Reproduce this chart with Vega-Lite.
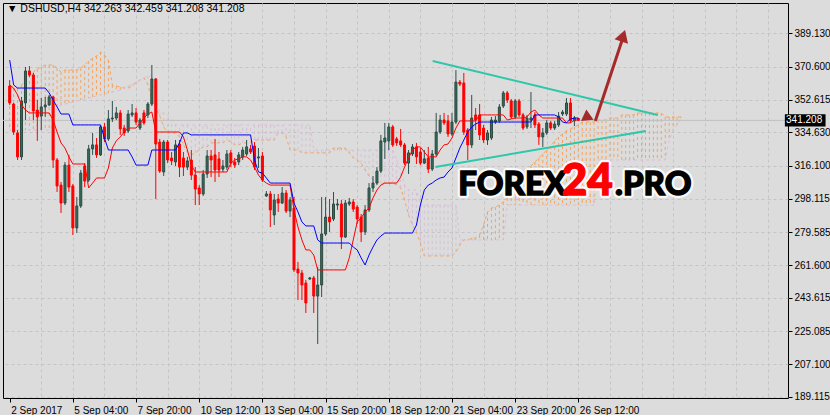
{
"$schema": "https://vega.github.io/schema/vega-lite/v6.json",
"width": 785, "height": 395,
"autosize": {"type": "pad"},
"padding": {"left": 2, "top": 3, "right": 0, "bottom": 0},
"background": "#DCDCDC",
"config": {
 "view": {"stroke": "#000000", "strokeWidth": 1, "fill": "#DCDCDC"},
 "style": {"guide-label": {"font": "Liberation Sans, sans-serif", "fontSize": 10, "fill": "#000000"}},
 "axis": {"domain": false, "tickColor": "#000000", "tickSize": 4, "labelColor": "#000000", "labelFont": "Liberation Sans, sans-serif", "labelFontSize": 10, "gridColor": "#C4C4C4", "gridDash": [3,3], "gridWidth": 1}
},
"title": {"text": "▼ DSHUSD,H4 342.263 342.459 341.208 341.208", "anchor": "start", "frame": "group", "offset": -11, "dx": 4, "font": "Liberation Sans, sans-serif", "fontSize": 10.5, "fontWeight": "normal", "color": "#000000"},
"resolve": {"axis": {"x": "independent", "y": "independent"}},
"datasets": {
"bars": [
{"i":0,"o":360.1,"h":363.4,"l":349.7,"c":350.8,"tk":360.7,"kj":374.4},
{"i":1,"o":350.2,"h":350.8,"l":333.2,"c":334.8,"tk":359.0,"kj":360.7},
{"i":2,"o":334.3,"h":335.9,"l":319.4,"c":321.1,"tk":355.2,"kj":359.0},
{"i":3,"o":321.1,"h":354.1,"l":319.4,"c":351.9,"tk":349.7,"kj":359.0},
{"i":4,"o":350.8,"h":370.6,"l":341.4,"c":368.4,"tk":346.9,"kj":359.0},
{"i":5,"o":368.4,"h":371.1,"l":365.1,"c":366.2,"tk":345.3,"kj":359.0},
{"i":6,"o":366.2,"h":367.3,"l":341.4,"c":346.4,"tk":345.3,"kj":359.0},
{"i":7,"o":346.9,"h":352.4,"l":329.9,"c":343.1,"tk":345.3,"kj":359.0},
{"i":8,"o":343.6,"h":353.5,"l":335.9,"c":348.6,"tk":345.3,"kj":359.0},
{"i":9,"o":348.6,"h":354.1,"l":343.1,"c":349.7,"tk":345.3,"kj":359.0},
{"i":10,"o":349.7,"h":355.2,"l":349.1,"c":354.1,"tk":345.3,"kj":356.3},
{"i":11,"o":354.1,"h":354.6,"l":315.0,"c":319.4,"tk":341.4,"kj":352.4},
{"i":12,"o":319.4,"h":320.5,"l":301.8,"c":305.1,"tk":334.8,"kj":348.6},
{"i":13,"o":305.6,"h":307.3,"l":290.2,"c":295.7,"tk":328.8,"kj":344.7},
{"i":14,"o":295.7,"h":318.3,"l":294.6,"c":316.6,"tk":326.0,"kj":344.7},
{"i":15,"o":316.6,"h":322.2,"l":301.8,"c":304.5,"tk":321.1,"kj":344.7},
{"i":16,"o":305.1,"h":306.2,"l":278.1,"c":282.0,"tk":317.2,"kj":338.7},
{"i":17,"o":282.0,"h":299.0,"l":279.2,"c":294.1,"tk":317.2,"kj":338.7},
{"i":18,"o":294.1,"h":313.9,"l":293.0,"c":312.2,"tk":317.2,"kj":338.7},
{"i":19,"o":316.1,"h":317.7,"l":304.5,"c":307.8,"tk":317.2,"kj":338.7},
{"i":20,"o":308.4,"h":327.7,"l":307.3,"c":325.5,"tk":304.0,"kj":338.7},
{"i":21,"o":325.5,"h":334.3,"l":322.2,"c":327.7,"tk":306.7,"kj":338.7},
{"i":22,"o":327.7,"h":331.5,"l":320.5,"c":322.2,"tk":309.5,"kj":338.7},
{"i":23,"o":322.2,"h":338.7,"l":321.6,"c":337.6,"tk":309.5,"kj":338.7},
{"i":24,"o":337.6,"h":339.8,"l":329.3,"c":331.0,"tk":309.5,"kj":331.5},
{"i":25,"o":331.0,"h":346.9,"l":329.9,"c":342.0,"tk":315.0,"kj":324.9},
{"i":26,"o":342.0,"h":351.9,"l":340.3,"c":342.5,"tk":326.0,"kj":324.9},
{"i":27,"o":342.5,"h":348.6,"l":341.4,"c":345.3,"tk":329.9,"kj":324.9},
{"i":28,"o":345.3,"h":346.9,"l":333.2,"c":336.5,"tk":332.1,"kj":324.9},
{"i":29,"o":337.0,"h":338.7,"l":332.6,"c":334.3,"tk":334.8,"kj":324.9},
{"i":30,"o":335.4,"h":346.9,"l":334.3,"c":344.7,"tk":337.0,"kj":324.9},
{"i":31,"o":344.2,"h":350.2,"l":343.1,"c":345.3,"tk":337.0,"kj":321.1},
{"i":32,"o":345.3,"h":348.0,"l":338.7,"c":340.3,"tk":337.0,"kj":316.6},
{"i":33,"o":337.0,"h":342.5,"l":335.9,"c":341.4,"tk":339.8,"kj":316.6},
{"i":34,"o":345.3,"h":346.9,"l":338.7,"c":339.8,"tk":342.5,"kj":316.6},
{"i":35,"o":344.2,"h":351.3,"l":342.5,"c":350.2,"tk":344.7,"kj":316.6},
{"i":36,"o":350.2,"h":371.7,"l":349.1,"c":364.0,"tk":345.8,"kj":324.9},
{"i":37,"o":364.0,"h":364.5,"l":297.9,"c":328.2,"tk":334.8,"kj":324.9},
{"i":38,"o":329.3,"h":331.0,"l":312.2,"c":313.3,"tk":334.8,"kj":324.9},
{"i":39,"o":312.8,"h":330.4,"l":310.6,"c":329.3,"tk":334.8,"kj":324.9},
{"i":40,"o":329.3,"h":330.4,"l":317.7,"c":319.4,"tk":334.8,"kj":324.9},
{"i":41,"o":320.5,"h":323.8,"l":316.6,"c":318.9,"tk":334.8,"kj":324.9},
{"i":42,"o":318.3,"h":330.4,"l":316.1,"c":327.7,"tk":334.8,"kj":324.9},
{"i":43,"o":328.2,"h":330.4,"l":310.0,"c":315.5,"tk":334.8,"kj":328.8},
{"i":44,"o":320.5,"h":323.8,"l":310.6,"c":315.5,"tk":332.1,"kj":334.3},
{"i":45,"o":315.5,"h":321.1,"l":313.9,"c":318.9,"tk":324.9,"kj":334.3},
{"i":46,"o":319.4,"h":324.9,"l":308.4,"c":311.1,"tk":316.6,"kj":333.2},
{"i":47,"o":311.1,"h":315.5,"l":294.6,"c":303.4,"tk":312.8,"kj":333.2},
{"i":48,"o":304.0,"h":305.6,"l":294.6,"c":300.7,"tk":312.8,"kj":333.2},
{"i":49,"o":300.7,"h":313.9,"l":299.6,"c":311.7,"tk":312.8,"kj":333.2},
{"i":50,"o":311.7,"h":324.9,"l":309.5,"c":321.6,"tk":312.8,"kj":333.2},
{"i":51,"o":321.6,"h":324.9,"l":310.0,"c":319.4,"tk":312.8,"kj":333.2},
{"i":52,"o":322.2,"h":331.0,"l":307.3,"c":313.9,"tk":312.8,"kj":333.2},
{"i":53,"o":320.0,"h":323.8,"l":310.0,"c":313.9,"tk":312.8,"kj":333.2},
{"i":54,"o":314.4,"h":319.4,"l":312.8,"c":316.1,"tk":312.8,"kj":333.2},
{"i":55,"o":315.5,"h":324.9,"l":313.9,"c":322.7,"tk":312.8,"kj":333.2},
{"i":56,"o":323.3,"h":324.9,"l":315.5,"c":317.7,"tk":317.7,"kj":333.2},
{"i":57,"o":318.3,"h":320.5,"l":315.0,"c":316.6,"tk":319.4,"kj":333.2},
{"i":58,"o":318.3,"h":323.8,"l":316.6,"c":322.2,"tk":320.0,"kj":333.2},
{"i":59,"o":321.1,"h":326.6,"l":319.4,"c":324.9,"tk":321.1,"kj":333.2},
{"i":60,"o":322.7,"h":330.4,"l":321.6,"c":326.6,"tk":321.1,"kj":333.2},
{"i":61,"o":325.5,"h":327.7,"l":322.7,"c":323.8,"tk":319.4,"kj":333.2},
{"i":62,"o":327.1,"h":329.3,"l":313.9,"c":315.5,"tk":315.5,"kj":319.4},
{"i":63,"o":320.5,"h":326.0,"l":315.0,"c":321.1,"tk":311.1,"kj":312.8},
{"i":64,"o":321.6,"h":323.8,"l":307.3,"c":308.4,"tk":308.4,"kj":312.2},
{"i":65,"o":299.6,"h":302.3,"l":299.0,"c":300.7,"tk":306.7,"kj":309.5},
{"i":66,"o":300.7,"h":302.3,"l":282.5,"c":291.9,"tk":305.6,"kj":306.7},
{"i":67,"o":289.1,"h":300.7,"l":283.6,"c":297.4,"tk":305.6,"kj":306.7},
{"i":68,"o":297.9,"h":300.7,"l":290.8,"c":295.7,"tk":305.6,"kj":306.7},
{"i":69,"o":295.7,"h":304.5,"l":295.2,"c":301.2,"tk":305.6,"kj":306.7},
{"i":70,"o":301.2,"h":302.9,"l":290.2,"c":291.3,"tk":305.6,"kj":306.7},
{"i":71,"o":291.3,"h":299.0,"l":288.0,"c":297.4,"tk":305.6,"kj":306.7},
{"i":72,"o":293.0,"h":299.0,"l":257.8,"c":258.9,"tk":291.9,"kj":295.7},
{"i":73,"o":259.4,"h":263.3,"l":242.3,"c":257.2,"tk":282.5,"kj":290.8},
{"i":74,"o":257.2,"h":258.9,"l":242.3,"c":250.6,"tk":275.4,"kj":285.3},
{"i":75,"o":251.7,"h":253.4,"l":235.2,"c":240.7,"tk":269.9,"kj":283.1},
{"i":76,"o":253.9,"h":255.0,"l":253.4,"c":254.5,"tk":269.9,"kj":283.1},
{"i":77,"o":254.5,"h":255.6,"l":235.2,"c":244.5,"tk":267.1,"kj":283.1},
{"i":78,"o":244.5,"h":260.5,"l":218.1,"c":250.6,"tk":258.9,"kj":275.4},
{"i":79,"o":250.6,"h":299.0,"l":244.0,"c":278.7,"tk":258.9,"kj":273.7},
{"i":80,"o":278.7,"h":299.0,"l":277.6,"c":288.0,"tk":258.9,"kj":273.7},
{"i":81,"o":288.0,"h":297.9,"l":279.8,"c":285.3,"tk":258.9,"kj":273.7},
{"i":82,"o":286.9,"h":301.8,"l":285.8,"c":295.2,"tk":258.9,"kj":273.7},
{"i":83,"o":294.6,"h":297.9,"l":291.9,"c":295.2,"tk":258.9,"kj":273.7},
{"i":84,"o":295.2,"h":297.4,"l":270.4,"c":277.0,"tk":258.9,"kj":273.7},
{"i":85,"o":277.0,"h":297.4,"l":276.5,"c":295.7,"tk":258.9,"kj":273.7},
{"i":86,"o":295.2,"h":298.5,"l":294.1,"c":296.3,"tk":265.5,"kj":273.7},
{"i":87,"o":296.3,"h":297.9,"l":290.8,"c":292.4,"tk":275.4,"kj":271.5},
{"i":88,"o":293.5,"h":294.6,"l":284.2,"c":286.9,"tk":285.3,"kj":269.9},
{"i":89,"o":288.0,"h":289.7,"l":274.3,"c":279.8,"tk":287.5,"kj":265.5},
{"i":90,"o":279.8,"h":294.6,"l":278.1,"c":291.9,"tk":290.8,"kj":261.6},
{"i":91,"o":291.9,"h":306.7,"l":290.8,"c":304.0,"tk":293.0,"kj":267.1},
{"i":92,"o":304.0,"h":310.6,"l":301.8,"c":306.7,"tk":298.5,"kj":271.5},
{"i":93,"o":306.7,"h":315.5,"l":305.6,"c":313.3,"tk":302.9,"kj":275.4},
{"i":94,"o":313.3,"h":333.2,"l":312.2,"c":329.9,"tk":305.6,"kj":277.6},
{"i":95,"o":329.3,"h":339.8,"l":320.0,"c":331.5,"tk":306.7,"kj":279.2},
{"i":96,"o":329.9,"h":339.8,"l":324.9,"c":337.6,"tk":306.7,"kj":279.2},
{"i":97,"o":337.6,"h":338.7,"l":326.6,"c":327.7,"tk":306.7,"kj":279.2},
{"i":98,"o":331.0,"h":332.1,"l":327.1,"c":328.8,"tk":306.7,"kj":279.2},
{"i":99,"o":329.9,"h":336.5,"l":326.6,"c":327.7,"tk":310.0,"kj":279.2},
{"i":100,"o":327.7,"h":328.8,"l":316.6,"c":317.7,"tk":315.5,"kj":279.2},
{"i":101,"o":317.7,"h":324.9,"l":311.7,"c":323.3,"tk":320.5,"kj":279.2},
{"i":102,"o":322.7,"h":328.2,"l":321.6,"c":326.6,"tk":324.9,"kj":279.2},
{"i":103,"o":326.6,"h":328.8,"l":317.2,"c":321.1,"tk":326.6,"kj":283.6},
{"i":104,"o":323.8,"h":326.0,"l":316.6,"c":317.7,"tk":326.6,"kj":294.6},
{"i":105,"o":317.7,"h":324.9,"l":317.2,"c":320.0,"tk":323.8,"kj":302.9},
{"i":106,"o":320.5,"h":326.6,"l":312.2,"c":314.4,"tk":321.1,"kj":305.6},
{"i":107,"o":314.4,"h":324.9,"l":313.3,"c":322.7,"tk":321.1,"kj":306.7},
{"i":108,"o":322.7,"h":345.3,"l":321.6,"c":334.8,"tk":321.1,"kj":308.4},
{"i":109,"o":334.8,"h":344.2,"l":333.7,"c":341.4,"tk":324.9,"kj":309.5},
{"i":110,"o":341.4,"h":345.3,"l":338.7,"c":339.8,"tk":327.7,"kj":310.0},
{"i":111,"o":340.9,"h":344.2,"l":332.1,"c":333.7,"tk":328.2,"kj":312.8},
{"i":112,"o":333.7,"h":345.3,"l":332.6,"c":340.3,"tk":331.5,"kj":315.0},
{"i":113,"o":340.3,"h":368.9,"l":339.2,"c":362.3,"tk":337.0,"kj":320.5},
{"i":114,"o":362.3,"h":363.4,"l":360.1,"c":361.2,"tk":340.9,"kj":326.0},
{"i":115,"o":361.8,"h":367.3,"l":333.2,"c":334.8,"tk":340.9,"kj":330.4},
{"i":116,"o":335.9,"h":337.0,"l":319.4,"c":327.7,"tk":340.9,"kj":334.8},
{"i":117,"o":327.7,"h":355.2,"l":326.0,"c":342.5,"tk":340.9,"kj":337.6},
{"i":118,"o":344.2,"h":348.0,"l":335.9,"c":341.4,"tk":340.9,"kj":339.2},
{"i":119,"o":344.2,"h":350.2,"l":330.4,"c":333.2,"tk":344.2,"kj":340.3},
{"i":120,"o":337.0,"h":338.7,"l":328.8,"c":330.4,"tk":344.2,"kj":340.3},
{"i":121,"o":330.4,"h":335.9,"l":327.7,"c":334.3,"tk":344.2,"kj":340.3},
{"i":122,"o":331.5,"h":343.1,"l":330.4,"c":341.4,"tk":344.2,"kj":340.3},
{"i":123,"o":340.3,"h":343.6,"l":339.2,"c":341.4,"tk":344.2,"kj":340.3},
{"i":124,"o":340.9,"h":350.2,"l":339.8,"c":348.6,"tk":344.2,"kj":340.3},
{"i":125,"o":349.1,"h":357.4,"l":348.0,"c":356.3,"tk":344.2,"kj":340.3},
{"i":126,"o":356.3,"h":357.4,"l":350.8,"c":352.4,"tk":341.4,"kj":340.3},
{"i":127,"o":351.9,"h":353.0,"l":342.0,"c":343.1,"tk":342.0,"kj":340.3},
{"i":128,"o":343.1,"h":353.0,"l":342.0,"c":351.9,"tk":342.5,"kj":340.3},
{"i":129,"o":351.9,"h":353.0,"l":343.1,"c":344.2,"tk":342.5,"kj":340.3},
{"i":130,"o":344.2,"h":345.3,"l":335.9,"c":337.0,"tk":342.5,"kj":340.3},
{"i":131,"o":337.6,"h":344.2,"l":336.5,"c":342.5,"tk":343.1,"kj":340.3},
{"i":132,"o":341.4,"h":356.8,"l":337.0,"c":342.5,"tk":345.8,"kj":340.3},
{"i":133,"o":344.2,"h":345.8,"l":337.0,"c":338.7,"tk":346.9,"kj":344.2},
{"i":134,"o":339.2,"h":340.3,"l":327.7,"c":332.1,"tk":344.2,"kj":344.2},
{"i":135,"o":332.1,"h":337.0,"l":326.6,"c":334.3,"tk":342.5,"kj":344.2},
{"i":136,"o":334.3,"h":341.4,"l":333.2,"c":339.8,"tk":342.5,"kj":344.2},
{"i":137,"o":339.8,"h":340.9,"l":335.9,"c":337.0,"tk":342.5,"kj":344.2},
{"i":138,"o":337.0,"h":340.9,"l":335.9,"c":339.2,"tk":342.5,"kj":344.2},
{"i":139,"o":338.7,"h":345.8,"l":337.6,"c":343.6,"tk":342.5,"kj":343.1},
{"i":140,"o":344.7,"h":346.9,"l":343.6,"c":345.8,"tk":342.5,"kj":340.3},
{"i":141,"o":344.7,"h":353.5,"l":343.6,"c":350.8,"tk":339.8,"kj":339.8},
{"i":142,"o":350.8,"h":353.5,"l":339.8,"c":340.9,"tk":339.8,"kj":342.0},
{"i":143,"o":340.9,"h":343.6,"l":338.1,"c":342.5,"tk":341.4,"kj":342.5},
{"i":144,"o":342.263,"h":342.459,"l":341.208,"c":341.208,"tk":341.4,"kj":342.5}
],
"cloud": [
{"i":0,"a":359.0,"b":335.9},{"i":1,"a":359.0,"b":335.9},{"i":2,"a":359.0,"b":335.9},{"i":3,"a":360.7,"b":335.9},
{"i":4,"a":363.4,"b":335.9},{"i":5,"a":366.2,"b":335.9},{"i":6,"a":367.8,"b":335.9},{"i":7,"a":369.5,"b":335.9},
{"i":8,"a":370.6,"b":335.9},{"i":9,"a":371.7,"b":335.9},{"i":10,"a":371.7,"b":335.9},{"i":11,"a":371.7,"b":338.7},
{"i":12,"a":370.0,"b":348.0},{"i":13,"a":367.8,"b":349.7},{"i":14,"a":368.9,"b":350.2},{"i":15,"a":368.9,"b":350.8},
{"i":16,"a":368.9,"b":351.3},{"i":17,"a":368.9,"b":351.9},{"i":18,"a":370.0,"b":352.4},{"i":19,"a":371.7,"b":353.0},
{"i":20,"a":373.9,"b":353.5},{"i":21,"a":375.5,"b":354.1},{"i":22,"a":376.6,"b":354.6},{"i":23,"a":378.8,"b":355.2},
{"i":24,"a":377.2,"b":355.7},{"i":25,"a":374.4,"b":356.3},{"i":26,"a":360.7,"b":356.8},{"i":27,"a":360.1,"b":357.4},
{"i":28,"a":359.6,"b":357.9},{"i":29,"a":359.0,"b":359.0},{"i":30,"a":359.0,"b":360.1},{"i":31,"a":360.1,"b":361.2},
{"i":32,"a":361.8,"b":362.3},{"i":33,"a":363.4,"b":363.4},{"i":34,"a":364.5,"b":364.5},{"i":35,"a":360.7,"b":365.6},
{"i":36,"a":352.4,"b":365.6},{"i":37,"a":348.0,"b":352.4},{"i":38,"a":343.6,"b":345.3},{"i":39,"a":337.6,"b":345.3},
{"i":40,"a":334.3,"b":344.2},{"i":41,"a":334.3,"b":341.4},{"i":42,"a":334.3,"b":338.7},{"i":43,"a":332.1,"b":338.7},
{"i":44,"a":327.7,"b":338.7},{"i":45,"a":323.8,"b":338.7},{"i":46,"a":322.2,"b":338.7},{"i":47,"a":323.3,"b":338.7},
{"i":48,"a":324.9,"b":338.7},{"i":49,"a":326.6,"b":338.7},{"i":50,"a":326.6,"b":338.7},{"i":51,"a":328.8,"b":338.7},
{"i":52,"a":328.8,"b":338.7},{"i":53,"a":328.8,"b":338.7},{"i":54,"a":328.8,"b":338.7},{"i":55,"a":330.4,"b":338.7},
{"i":56,"a":329.3,"b":338.7},{"i":57,"a":327.7,"b":338.7},{"i":58,"a":327.7,"b":338.7},{"i":59,"a":328.8,"b":338.7},
{"i":60,"a":328.8,"b":338.7},{"i":61,"a":328.8,"b":338.7},{"i":62,"a":330.4,"b":338.7},{"i":63,"a":330.4,"b":338.7},
{"i":64,"a":330.4,"b":338.7},{"i":65,"a":330.4,"b":338.7},{"i":66,"a":330.4,"b":338.7},{"i":67,"a":330.4,"b":338.7},
{"i":68,"a":334.3,"b":338.7},{"i":69,"a":334.3,"b":338.7},{"i":70,"a":332.1,"b":338.7},{"i":71,"a":324.9,"b":338.7},
{"i":72,"a":324.9,"b":338.7},{"i":73,"a":324.9,"b":338.7},{"i":74,"a":323.3,"b":338.7},{"i":75,"a":323.3,"b":338.7},
{"i":76,"a":323.3,"b":338.7},{"i":77,"a":323.3,"b":324.9},{"i":78,"a":323.3,"b":324.9},{"i":79,"a":323.3,"b":324.9},
{"i":80,"a":323.3,"b":324.9},{"i":81,"a":323.3,"b":324.9},{"i":82,"a":326.0,"b":324.9},{"i":83,"a":326.0,"b":324.9},
{"i":84,"a":326.0,"b":324.9},{"i":85,"a":326.0,"b":324.9},{"i":86,"a":323.3,"b":324.9},{"i":87,"a":320.5,"b":324.9},
{"i":88,"a":319.4,"b":324.9},{"i":89,"a":317.7,"b":324.9},{"i":90,"a":313.9,"b":324.9},{"i":91,"a":310.6,"b":324.9},
{"i":92,"a":308.4,"b":324.9},{"i":93,"a":307.3,"b":324.9},{"i":94,"a":306.7,"b":324.9},{"i":95,"a":306.7,"b":324.9},
{"i":96,"a":306.7,"b":324.9},{"i":97,"a":306.7,"b":324.9},{"i":98,"a":305.6,"b":319.4},{"i":99,"a":304.0,"b":313.9},
{"i":100,"a":297.4,"b":305.6},{"i":101,"a":289.1,"b":302.9},{"i":102,"a":283.6,"b":302.9},{"i":103,"a":279.8,"b":302.9},
{"i":104,"a":273.7,"b":294.6},{"i":105,"a":266.6,"b":294.6},{"i":106,"a":266.6,"b":294.6},{"i":107,"a":266.6,"b":294.6},
{"i":108,"a":266.6,"b":294.6},{"i":109,"a":266.6,"b":294.6},{"i":110,"a":266.6,"b":294.6},{"i":111,"a":266.6,"b":294.6},
{"i":112,"a":266.6,"b":294.6},{"i":113,"a":268.8,"b":294.6},{"i":114,"a":272.6,"b":275.4},{"i":115,"a":275.4,"b":275.4},
{"i":116,"a":275.4,"b":275.4},{"i":117,"a":276.5,"b":275.4},{"i":118,"a":276.5,"b":275.4},{"i":119,"a":278.1,"b":275.4},
{"i":120,"a":283.6,"b":275.4},{"i":121,"a":290.8,"b":275.4},{"i":122,"a":293.0,"b":275.4},{"i":123,"a":293.5,"b":275.4},
{"i":124,"a":294.6,"b":275.4},{"i":125,"a":296.3,"b":275.4},{"i":126,"a":298.5,"b":294.6},{"i":127,"a":301.8,"b":294.6},
{"i":128,"a":305.1,"b":294.6},{"i":129,"a":308.4,"b":294.6},{"i":130,"a":311.1,"b":294.6},{"i":131,"a":313.9,"b":294.6},
{"i":132,"a":316.1,"b":294.6},{"i":133,"a":318.3,"b":294.6},{"i":134,"a":320.5,"b":294.6},{"i":135,"a":322.7,"b":294.6},
{"i":136,"a":324.9,"b":294.6},{"i":137,"a":327.1,"b":294.6},{"i":138,"a":329.9,"b":294.6},{"i":139,"a":332.1,"b":294.6},
{"i":140,"a":333.7,"b":294.6},{"i":141,"a":335.4,"b":294.6},{"i":142,"a":336.5,"b":294.6},{"i":143,"a":337.6,"b":294.6},
{"i":144,"a":338.7,"b":294.6},{"i":145,"a":340.3,"b":294.6},{"i":146,"a":340.3,"b":294.6},{"i":147,"a":340.3,"b":294.6},
{"i":148,"a":340.3,"b":294.6},{"i":149,"a":341.4,"b":319.4},{"i":150,"a":341.4,"b":319.4},{"i":151,"a":341.4,"b":319.4},
{"i":152,"a":342.5,"b":319.4},{"i":153,"a":342.5,"b":319.4},{"i":154,"a":342.5,"b":319.4},{"i":155,"a":344.2,"b":319.4},
{"i":156,"a":344.2,"b":319.4},{"i":157,"a":344.2,"b":319.4},{"i":158,"a":344.2,"b":319.4},{"i":159,"a":345.3,"b":319.4},
{"i":160,"a":345.3,"b":319.4},{"i":161,"a":345.3,"b":319.4},{"i":162,"a":345.3,"b":319.4},{"i":163,"a":345.3,"b":319.4},
{"i":164,"a":345.3,"b":319.4},{"i":165,"a":345.3,"b":319.4},{"i":166,"a":343.1,"b":319.4},{"i":167,"a":343.1,"b":330.4},
{"i":168,"a":343.1,"b":335.9},{"i":169,"a":343.1,"b":338.7},{"i":170,"a":343.1,"b":342.5}
],
"trend": [{"i1":107.1,"p1":373.9,"i2":164.1,"p2":344.2},{"i1":107.8,"p1":315.5,"i2":161.1,"p2":335.4}],
"arrow": [{"i1":148.3,"p1":340.9,"i2":155.1,"p2":385.4}],
"tip": [{"i":155.35,"p":387.8}],
"base": [{"i":146.6,"p":342.8}],
"last": [{"i1":196.3,"i2":206.6,"p1":344.6,"p2":337.9,"ti":196.6,"p":341.208,"t":"341.208"}],
"wm": [{"t":"FOREX","i":113.6,"p":300.1},{"t":"24","i":139.8,"p":300.1},{"t":".PRO","i":153.3,"p":300.1}]
},
"layer": [
{"data": {"name": "cloud"}, "mark": {"type": "rule", "strokeDash": [3,3], "strokeWidth": 1},
 "encoding": {
  "x": {"field": "i", "type": "quantitative", "scale": {"domain": [-0.425, 195.825], "nice": false, "zero": false},
   "axis": {"title": null, "orient": "bottom", "values": [0,8,16,24,32,40,48,56,64,72,80,88,96,104,112,120,128,136,144,152,160,168,176,184,192],
    "labelExpr": "(datum.value % 16 === 0 && datum.value <= 144) ? ['2 Sep 2017','5 Sep 04:00','7 Sep 20:00','10 Sep 12:00','13 Sep 04:00','15 Sep 20:00','18 Sep 12:00','21 Sep 04:00','23 Sep 20:00','26 Sep 12:00'][datum.value/16] : ''",
    "labelFont": "Liberation Sans, sans-serif", "labelFontSize": 10,
    "labelAlign": "left", "labelBaseline": "top", "labelPadding": 3, "labelOffset": 1, "labelOverlap": false, "labelBound": false, "labelFlush": false,
    "tickColor": {"condition": {"test": "datum.value % 16 === 0 && datum.value <= 144", "value": "#000000"}, "value": "rgba(0,0,0,0)"},
    "gridColor": {"condition": {"test": "datum.value > 0", "value": "#C4C4C4"}, "value": "rgba(0,0,0,0)"}}},
  "y": {"field": "a", "type": "quantitative", "scale": {"domain": [188.4, 405.81], "nice": false, "zero": false},
   "axis": {"title": null, "orient": "right", "offset": 0, "values": [189.115,207.1,225.085,243.615,261.6,279.585,298.115,316.1,334.63,352.615,370.6,389.13], "format": ".3f",
    "labelFont": "Liberation Sans, sans-serif", "labelFontSize": 10,
    "labelPadding": 2, "labelOverlap": false, "labelBound": false, "labelFlush": false}},
  "y2": {"field": "b"},
  "color": {"condition": {"test": "datum.a >= datum.b", "value": "#F4A460"}, "value": "#D8BFD8"}
 }},
{"data": {"name": "cloud"}, "mark": {"type": "line", "color": "#F4A460", "strokeDash": [3,3], "strokeWidth": 1},
 "encoding": {"x": {"field": "i", "type": "quantitative", "scale": {"domain": [-0.425, 195.825], "nice": false, "zero": false}, "axis": null},
  "y": {"field": "a", "type": "quantitative", "scale": {"domain": [188.4, 405.81], "nice": false, "zero": false}, "axis": null}}},
{"data": {"name": "cloud"}, "mark": {"type": "line", "color": "#D8BFD8", "strokeDash": [3,3], "strokeWidth": 1},
 "encoding": {"x": {"field": "i", "type": "quantitative", "scale": {"domain": [-0.425, 195.825], "nice": false, "zero": false}, "axis": null},
  "y": {"field": "b", "type": "quantitative", "scale": {"domain": [188.4, 405.81], "nice": false, "zero": false}, "axis": null}}},
{"data": {"name": "last"}, "mark": {"type": "rule", "color": "#C0C0C0", "strokeWidth": 1},
 "encoding": {"y": {"field": "p", "type": "quantitative", "scale": {"domain": [188.4, 405.81], "nice": false, "zero": false}, "axis": null}}},
{"data": {"name": "bars"}, "mark": {"type": "rule", "strokeWidth": 1},
 "encoding": {"x": {"field": "i", "type": "quantitative", "scale": {"domain": [-0.425, 195.825], "nice": false, "zero": false}, "axis": null},
  "y": {"field": "l", "type": "quantitative", "scale": {"domain": [188.4, 405.81], "nice": false, "zero": false}, "axis": null},
  "y2": {"field": "h"},
  "color": {"condition": {"test": "datum.c >= datum.o", "value": "#2F4F4F"}, "value": "#FF0000"}}},
{"data": {"name": "bars"}, "mark": {"type": "bar", "size": 2, "strokeWidth": 1},
 "encoding": {"x": {"field": "i", "type": "quantitative", "scale": {"domain": [-0.425, 195.825], "nice": false, "zero": false}, "axis": null},
  "y": {"field": "o", "type": "quantitative", "scale": {"domain": [188.4, 405.81], "nice": false, "zero": false}, "axis": null},
  "y2": {"field": "c"},
  "fill": {"condition": {"test": "datum.c >= datum.o", "value": "#356F5C"}, "value": "#FF0000"},
  "stroke": {"condition": {"test": "datum.c >= datum.o", "value": "#2A4A40"}, "value": "#FF0000"}}},
{"data": {"name": "bars"}, "mark": {"type": "line", "color": "#FF0000", "strokeWidth": 1},
 "encoding": {"x": {"field": "i", "type": "quantitative", "scale": {"domain": [-0.425, 195.825], "nice": false, "zero": false}, "axis": null},
  "y": {"field": "tk", "type": "quantitative", "scale": {"domain": [188.4, 405.81], "nice": false, "zero": false}, "axis": null}}},
{"data": {"name": "bars"}, "mark": {"type": "line", "color": "#0000FF", "strokeWidth": 1},
 "encoding": {"x": {"field": "i", "type": "quantitative", "scale": {"domain": [-0.425, 195.825], "nice": false, "zero": false}, "axis": null},
  "y": {"field": "kj", "type": "quantitative", "scale": {"domain": [188.4, 405.81], "nice": false, "zero": false}, "axis": null}}},
{"data": {"name": "trend"}, "mark": {"type": "rule", "color": "#2EC7A9", "strokeWidth": 2},
 "encoding": {"x": {"field": "i1", "type": "quantitative", "scale": {"domain": [-0.425, 195.825], "nice": false, "zero": false}, "axis": null},
  "x2": {"field": "i2"},
  "y": {"field": "p1", "type": "quantitative", "scale": {"domain": [188.4, 405.81], "nice": false, "zero": false}, "axis": null},
  "y2": {"field": "p2"}}},
{"data": {"name": "arrow"}, "mark": {"type": "rule", "color": "#A52A2A", "strokeWidth": 3},
 "encoding": {"x": {"field": "i1", "type": "quantitative", "scale": {"domain": [-0.425, 195.825], "nice": false, "zero": false}, "axis": null},
  "x2": {"field": "i2"},
  "y": {"field": "p1", "type": "quantitative", "scale": {"domain": [188.4, 405.81], "nice": false, "zero": false}, "axis": null},
  "y2": {"field": "p2"}}},
{"data": {"name": "tip"}, "mark": {"type": "point", "shape": "triangle-up", "filled": true, "color": "#A52A2A", "opacity": 1, "size": 200, "angle": 18},
 "encoding": {"x": {"field": "i", "type": "quantitative", "scale": {"domain": [-0.425, 195.825], "nice": false, "zero": false}, "axis": null},
  "y": {"field": "p", "type": "quantitative", "scale": {"domain": [188.4, 405.81], "nice": false, "zero": false}, "axis": null}}},
{"data": {"name": "base"}, "mark": {"type": "point", "shape": "triangle-up", "filled": true, "color": "#A52A2A", "opacity": 1, "size": 160, "angle": 115},
 "encoding": {"x": {"field": "i", "type": "quantitative", "scale": {"domain": [-0.425, 195.825], "nice": false, "zero": false}, "axis": null},
  "y": {"field": "p", "type": "quantitative", "scale": {"domain": [188.4, 405.81], "nice": false, "zero": false}, "axis": null}}},
{"data": {"name": "wm"}, "mark": {"type": "text", "align": "left", "baseline": "alphabetic", "font": "Lato, Roboto, DejaVu Sans", "fontWeight": 900, "fill": "#FFFFFF", "stroke": "#FFFFFF", "strokeWidth": 6, "strokeJoin": "round", "opacity": 0.85},
 "encoding": {"x": {"field": "i", "type": "quantitative", "scale": {"domain": [-0.425, 195.825], "nice": false, "zero": false}, "axis": null},
  "y": {"field": "p", "type": "quantitative", "scale": {"domain": [188.4, 405.81], "nice": false, "zero": false}, "axis": null},
  "text": {"field": "t"},
  "size": {"condition": {"test": "datum.t === '24'", "value": 44}, "value": 33}}},
{"data": {"name": "wm"}, "mark": {"type": "text", "align": "left", "baseline": "alphabetic", "font": "Lato, Roboto, DejaVu Sans", "fontWeight": 900, "strokeWidth": 1.4},
 "encoding": {"x": {"field": "i", "type": "quantitative", "scale": {"domain": [-0.425, 195.825], "nice": false, "zero": false}, "axis": null},
  "y": {"field": "p", "type": "quantitative", "scale": {"domain": [188.4, 405.81], "nice": false, "zero": false}, "axis": null},
  "text": {"field": "t"},
  "size": {"condition": {"test": "datum.t === '24'", "value": 44}, "value": 33},
  "fill": {"condition": {"test": "datum.t === '24'", "value": "#FF0000"}, "value": "#000000"},
  "stroke": {"condition": {"test": "datum.t === '24'", "value": "#FF0000"}, "value": "#000000"}}},
{"data": {"name": "last"}, "mark": {"type": "rect", "color": "#000000"},
 "encoding": {"x": {"field": "i1", "type": "quantitative", "scale": {"domain": [-0.425, 195.825], "nice": false, "zero": false}, "axis": null},
  "x2": {"field": "i2"},
  "y": {"field": "p1", "type": "quantitative", "scale": {"domain": [188.4, 405.81], "nice": false, "zero": false}, "axis": null},
  "y2": {"field": "p2"}}},
{"data": {"name": "last"}, "mark": {"type": "text", "align": "left", "baseline": "middle", "color": "#FFFFFF", "font": "Liberation Sans, sans-serif", "fontSize": 10},
 "encoding": {"x": {"field": "ti", "type": "quantitative", "scale": {"domain": [-0.425, 195.825], "nice": false, "zero": false}, "axis": null},
  "y": {"field": "p", "type": "quantitative", "scale": {"domain": [188.4, 405.81], "nice": false, "zero": false}, "axis": null},
  "text": {"field": "t"}}}
]
}
